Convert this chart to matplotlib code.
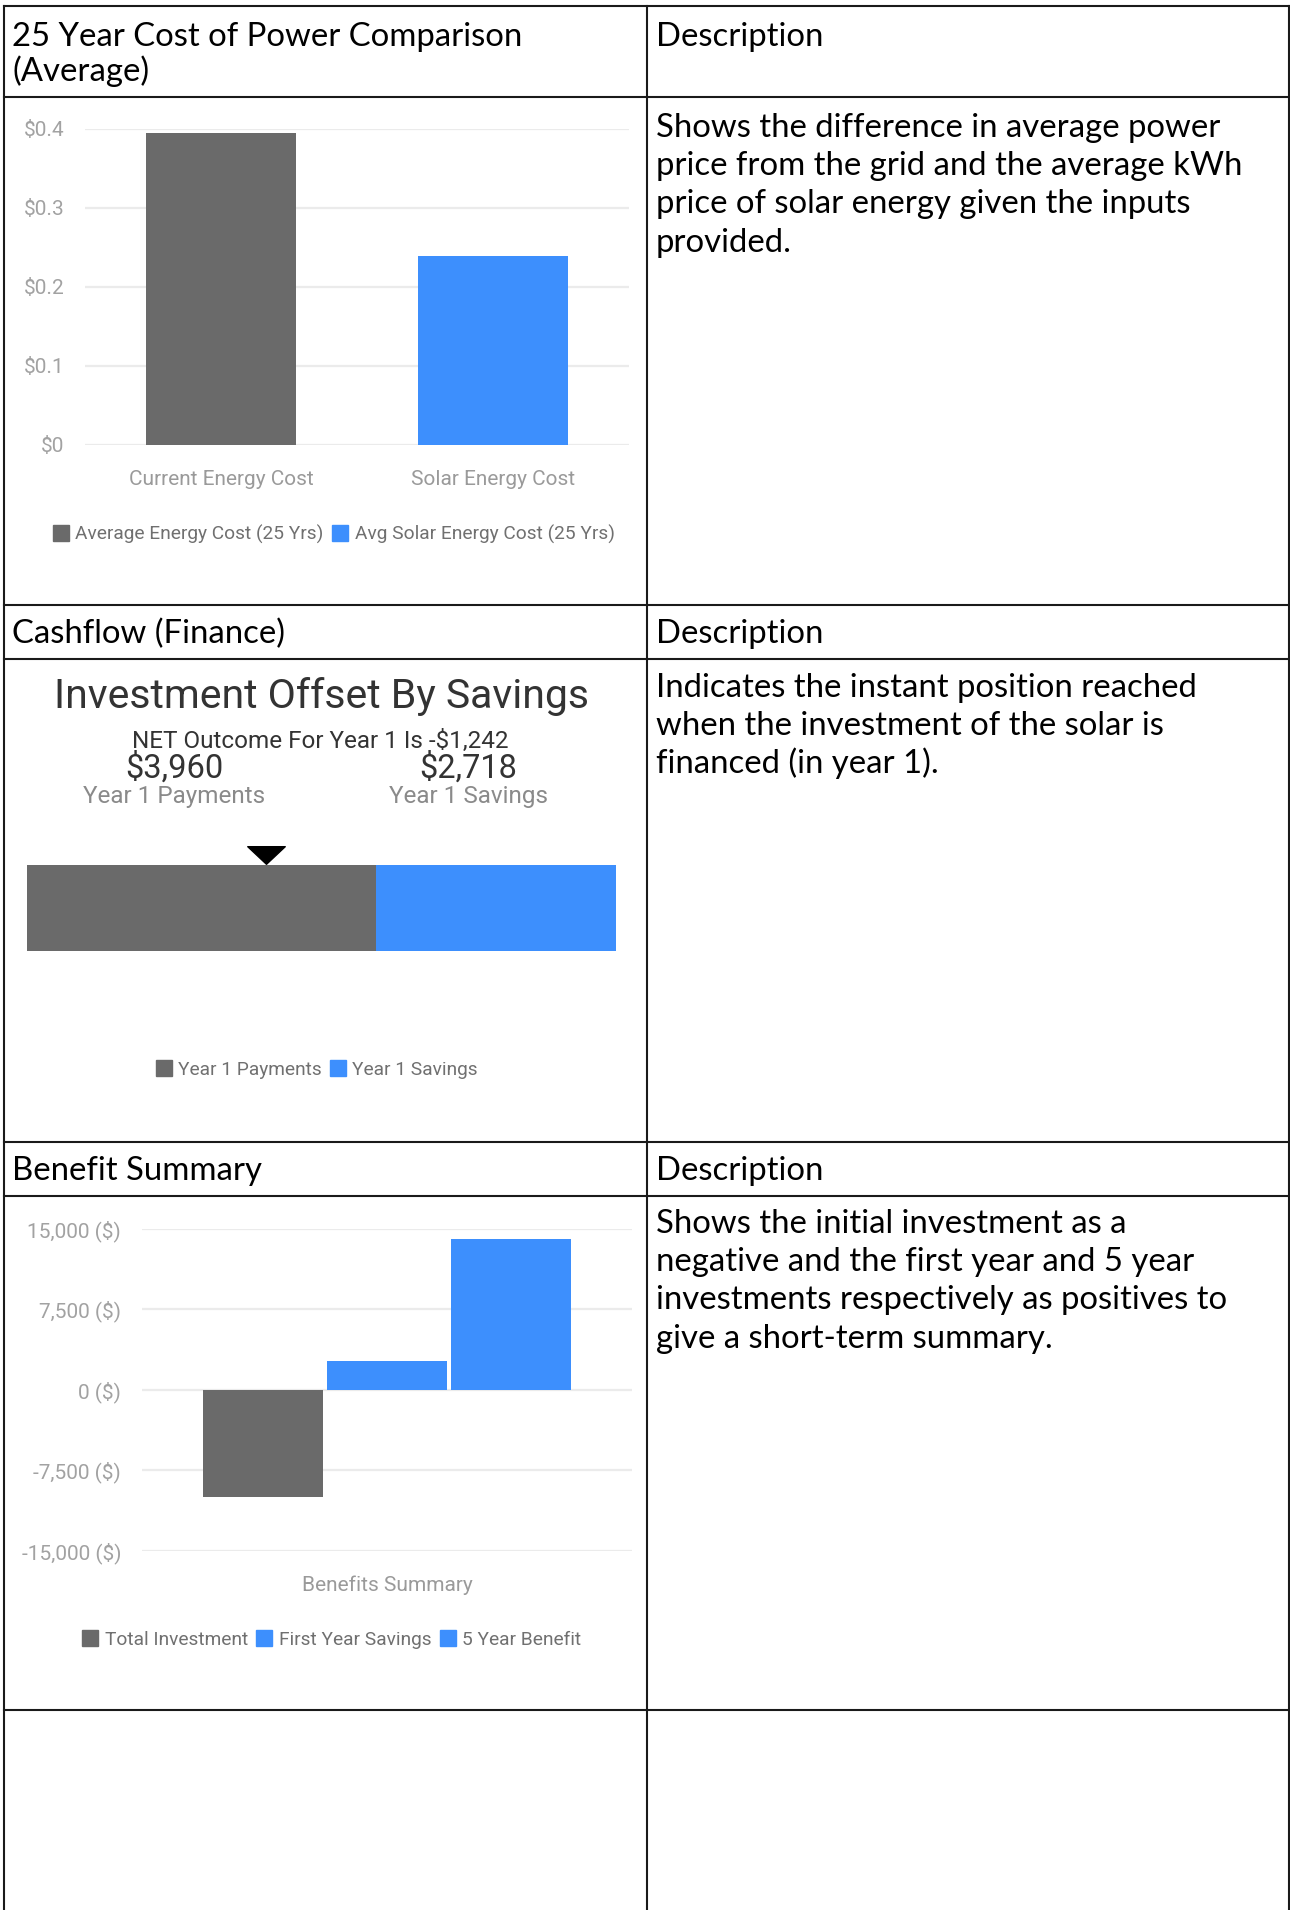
import matplotlib
matplotlib.use('Agg')
import matplotlib.pyplot as plt
from matplotlib.lines import Line2D
from matplotlib.path import Path
from matplotlib.ticker import FuncFormatter

plt.rcParams['font.family'] = ['Roboto', 'DejaVu Sans']

# ---- data ----
cost_labels = ['Current Energy Cost', 'Solar Energy Cost']
cost_values = [0.394, 0.239]
cost_series = ['Average Energy Cost (25 Yrs)', 'Avg Solar Energy Cost (25 Yrs)']
cost_ticks = [0, 0.1, 0.2, 0.3, 0.4]

cash_title = 'Investment Offset By Savings'
cash_labels = ['Year 1 Payments', 'Year 1 Savings']
cash_values = [3960, 2718]

benefit_category = 'Benefits Summary'
benefit_labels = ['Total Investment', 'First Year Savings', '5 Year Benefit']
benefit_values = [-10000, 2718, 14000]
benefit_ticks = [-15000, -7500, 0, 7500, 15000]

headers = [['25 Year Cost of Power Comparison', '(Average)'],
           ['Cashflow (Finance)'],
           ['Benefit Summary']]
descriptions = [
    ['Shows the difference in average power',
     'price from the grid and the average kWh',
     'price of solar energy given the inputs',
     'provided.'],
    ['Indicates the instant position reached',
     'when the investment of the solar is',
     'financed (in year 1).'],
    ['Shows the initial investment as a',
     'negative and the first year and 5 year',
     'investments respectively as positives to',
     'give a short-term summary.'],
]

GRAY = '#6a6a6a'
BLUE = '#3d8ffd'
GRID = '#ebebeb'
TICK = '#a2a2a2'
LEG = '#707070'

W, H = 1290, 1910
fig = plt.figure(figsize=(W / 100, H / 100), dpi=100)


def fx(x):
    return x / W


def fy(y):
    return 1 - y / H


def px_axes(left, top, right, bottom):
    return fig.add_axes([fx(left), fy(bottom), (right - left) / W, (bottom - top) / H])


def legend_at(colors, labels, cx, cy):
    handles = [Line2D([], [], marker='s', linestyle='none', markersize=11,
                      markerfacecolor=c, markeredgecolor=c) for c in colors]
    fig.legend(handles, labels, loc='center', bbox_to_anchor=(fx(cx), fy(cy)),
               ncol=len(labels), frameon=False, fontsize=13.8, labelcolor=LEG,
               handlelength=0.8, handletextpad=0.35, columnspacing=0.45,
               borderpad=0, borderaxespad=0)


def clean(ax):
    for s in ax.spines.values():
        s.set_visible(False)
    ax.tick_params(length=0)


# ---- table grid ----
lw = 1.5
for y in [6, 97.5, 605, 659, 1142, 1196, 1710]:
    fig.add_artist(Line2D([fx(3.5), fx(1289)], [fy(y), fy(y)], color='#1a1a1a', lw=lw))
for x in [3.5, 647, 1289]:
    fig.add_artist(Line2D([fx(x), fx(x)], [fy(6), fy(1910)], color='#1a1a1a', lw=lw))

head_font = dict(family=['Lato', 'DejaVu Sans'], fontsize=23.7, color='black', va='baseline')
header_baselines = [[45.5, 81], [643], [1180]]
for lines, bases in zip(headers, header_baselines):
    for t, b in zip(lines, bases):
        fig.text(fx(12), fy(b), t, **head_font)
for b in [45.5, 643, 1180]:
    fig.text(fx(656), fy(b), 'Description', **head_font)

desc_starts = [137, 697, 1233]
for lines, b0 in zip(descriptions, desc_starts):
    for i, t in enumerate(lines):
        fig.text(fx(656), fy(b0 + i * 38.2), t, **head_font)

# ---- chart 1: cost comparison ----
ax1 = px_axes(85, 128.6, 629, 445)
ax1.bar([0, 1], cost_values, width=0.55, color=[GRAY, BLUE], zorder=3)
ax1.set_xlim(-0.5, 1.5)
ax1.set_ylim(0, 0.4)
ax1.set_yticks(cost_ticks)
ax1.yaxis.set_major_formatter(FuncFormatter(lambda v, p: '$0' if v == 0 else f'${v:g}'))
ax1.set_xticks([0, 1])
ax1.set_xticklabels(cost_labels)
ax1.grid(axis='y', color=GRID, lw=1.6, zorder=0)
clean(ax1)
ax1.tick_params(axis='y', labelsize=15, labelcolor=TICK, pad=15)
ax1.tick_params(axis='x', labelsize=15, labelcolor='#9a9a9a', pad=18)
legend_at([GRAY, BLUE], cost_series, 334, 534)

# ---- chart 2: cashflow ----
ax2 = px_axes(26.5, 865, 616, 951)
total = sum(cash_values)
ax2.barh(0.5, cash_values[0], height=1, left=0, color=GRAY)
ax2.barh(0.5, cash_values[1], height=1, left=cash_values[0], color=BLUE)
ax2.set_xlim(0, total)
ax2.set_ylim(0, 1)
ax2.axis('off')
tri = Path([(-1, 0.47), (1, 0.47), (0, -0.47), (-1, 0.47)],
           [Path.MOVETO, Path.LINETO, Path.LINETO, Path.CLOSEPOLY])
ax2.plot([cash_values[1]], [1.12], marker=tri, markersize=27, color='black',
         linestyle='none', clip_on=False)

fig.text(fx(321), fy(708), cash_title, fontsize=29.5, color='#333333',
         ha='center', va='baseline')
net = cash_values[1] - cash_values[0]
fig.text(fx(320), fy(748), f'NET Outcome For Year 1 Is -${abs(net):,}', fontsize=17.5,
         color='#333333', ha='center', va='baseline')
for cx, v, lab in zip([174, 468], cash_values, cash_labels):
    fig.text(fx(cx), fy(778), f'${v:,}', fontsize=23.5, color='#333333', ha='center', va='baseline')
    fig.text(fx(cx), fy(803), lab, fontsize=17.5, color='#8a8a8a', ha='center', va='baseline')
legend_at([GRAY, BLUE], cash_labels, 317, 1070)

# ---- chart 3: benefit summary ----
ax3 = px_axes(142, 1228.7, 632, 1550.7)
colors3 = [GRAY, BLUE, BLUE]
for i, (v, c) in enumerate(zip(benefit_values, colors3)):
    ax3.bar((i - 1) * 0.253, v, width=0.243, color=c, zorder=3)
ax3.set_xlim(-0.5, 0.5)
ax3.set_ylim(-15000, 15000)
ax3.set_yticks(benefit_ticks)
ax3.yaxis.set_major_formatter(FuncFormatter(lambda v, p: f'{v:,.0f} ($)'))
ax3.set_xticks([0])
ax3.set_xticklabels([benefit_category])
ax3.grid(axis='y', color=GRID, lw=1.6, zorder=0)
clean(ax3)
ax3.tick_params(axis='y', labelsize=15, labelcolor=TICK, pad=15)
ax3.tick_params(axis='x', labelsize=15, labelcolor='#9a9a9a', pad=18)
legend_at(colors3, benefit_labels, 332, 1640)

fig.savefig('out.png', dpi=100, facecolor='white')
